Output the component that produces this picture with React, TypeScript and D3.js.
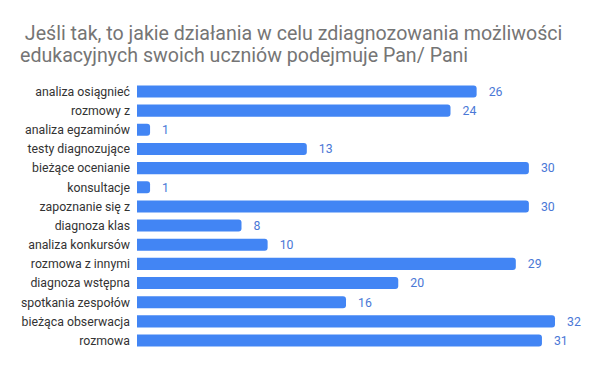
import * as d3 from 'd3';

const titleLines = [
  ' Jeśli tak, to jakie działania w celu zdiagnozowania możliwości',
  'edukacyjnych swoich uczniów podejmuje Pan/ Pani',
];

const categories = [
  'analiza osiągnieć',
  'rozmowy z',
  'analiza egzaminów',
  'testy diagnozujące',
  'bieżące ocenianie',
  'konsultacje',
  'zapoznanie się z',
  'diagnoza klas',
  'analiza konkursów',
  'rozmowa z innymi',
  'diagnoza wstępna',
  'spotkania zespołów',
  'bieżąca obserwacja',
  'rozmowa',
];

const values = [26, 24, 1, 13, 30, 1, 30, 8, 10, 29, 20, 16, 32, 31];

export default function App() {
  const width = 600;
  const height = 371;
  const margin = { top: 82, right: 45, bottom: 21, left: 137 };

  // 32 -> ~555px
  const x = d3.scaleLinear()
    .domain([0, 32])
    .range([margin.left, 555]);

  const y = d3.scaleBand()
    .domain(categories)
    .range([margin.top, height - margin.bottom])
    .paddingInner(0.37)
    .paddingOuter(0.18);

  const font = 'Roboto, "Noto Sans", sans-serif';
  const r = 3;

  // bar with rounded right end
  const barPath = (x0: number, x1: number, y0: number, h: number) => {
    const rr = Math.min(r, (x1 - x0) / 2, h / 2);
    return `M${x0},${y0}H${x1 - rr}A${rr},${rr} 0 0 1 ${x1},${y0 + rr}V${y0 + h - rr}A${rr},${rr} 0 0 1 ${x1 - rr},${y0 + h}H${x0}Z`;
  };

  return (
    <div style={{ margin: -8 }}>
      <svg width={width} height={height} style={{ display: 'block', background: '#fff' }}>
        <rect width={width} height={height} fill="#fff" />
        {titleLines.map((t, i) => (
          <text
            key={i}
            x={20}
            y={39.5 + i * 22.5}
            fontFamily={font}
            fontSize={19.6}
            fill="#757575"
            style={{ whiteSpace: 'pre' }}
          >
            {t}
          </text>
        ))}
        {categories.map((c, i) => {
          const yy = y(c) ?? 0;
          const bw = y.bandwidth();
          return (
            <g key={c}>
              <text
                x={margin.left - 7}
                y={yy + bw / 2}
                dy="0.35em"
                textAnchor="end"
                fontFamily={font}
                fontSize={12.3}
                fill="#333"
              >
                {c}
              </text>
              <path d={barPath(x(0), x(values[i]), yy, bw)} fill="#4285f4" />
              <text
                x={x(values[i]) + 12}
                y={yy + bw / 2}
                dy="0.35em"
                fontFamily={font}
                fontSize={12.3}
                fill="#4a78d6"
              >
                {values[i]}
              </text>
            </g>
          );
        })}
      </svg>
    </div>
  );
}
